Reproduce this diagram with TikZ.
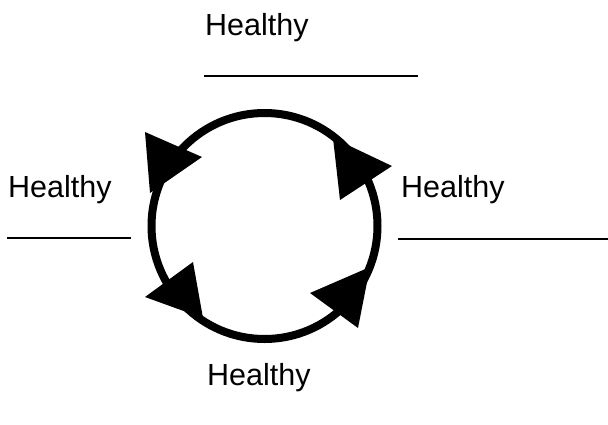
\documentclass[tikz,border=0pt]{standalone}
\usepackage{fontspec}
\setmainfont{Liberation Sans}
\begin{document}
\begin{tikzpicture}[x=1pt,y=-1pt,
  lbl/.style={anchor=base west,inner sep=0pt,font=\fontsize{30.5}{36}\selectfont},
  blank/.style={line width=2pt},
  ring/.style={line width=8pt},
  head/.style={fill=black,draw=none}]
\useasboundingbox (0,0) rectangle (608,424);
% labels
\node[lbl] (top) at (205,35) {Healthy};
\node[lbl] (left) at (8,197) {Healthy};
\node[lbl] (right) at (401,197) {Healthy};
\node[lbl] (bottom) at (207,385) {Healthy};
% blanks
\coordinate (t1) at (204,76); \coordinate (t2) at (418,76);
\coordinate (l1) at (7,238); \coordinate (l2) at (131,238);
\coordinate (r1) at (398,239); \coordinate (r2) at (608,239);
\draw[blank] (t1) -- (t2);
\draw[blank] (l1) -- (l2);
\draw[blank] (r1) -- (r2);
% cycle
\coordinate (c) at (264.5,226);
\draw[ring] (c) circle[radius=113];
\fill[head] (145,132) -- (202,157) -- (150,193) -- cycle;
\fill[head] (333,138) -- (392,166) -- (340,200) -- cycle;
\fill[head] (310,293) -- (370,267) -- (358,328) -- cycle;
\fill[head] (145,297) -- (193,262) -- (203,318) -- cycle;
\end{tikzpicture}
\end{document}
